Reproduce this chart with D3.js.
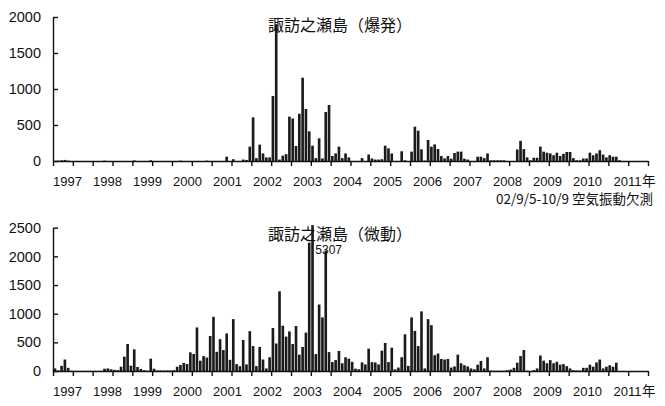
<!DOCTYPE html>
<html>
<head>
<meta charset="utf-8">
<script src="https://cdn.jsdelivr.net/npm/d3@7"></script>
<style>
  body { margin: 0; background: #fff; }
  svg { display: block; }
  .tick text { font-family: "Liberation Sans", Arial, sans-serif; fill: #111; }
</style>
</head>
<body>
<svg id="chart" width="665" height="406"></svg>
<script>
// monthly counts, Jan 1997 onward (one row per year)
const explosions = [
  0, 5, 10, 15, 5, 0, 0, 0, 0, 0, 0, 0,            // 1997
  0, 0, 0, 5, 0, 0, 0, 0, 0, 0, 0, 0,              // 1998
  8, 0, 0, 0, 0, 10, 0, 0, 0, 0, 0, 0,             // 1999
  0, 0, 5, 0, 0, 0, 0, 0, 0, 0, 5, 0,              // 2000
  0, 0, 0, 0, 60, 0, 25, 0, 0, 20, 15, 200,        // 2001
  606, 40, 227, 106, 50, 50, 903, 1900, 20, 75, 95, 616, // 2002
  590, 208, 657, 1157, 722, 412, 213, 40, 315, 35, 680, 778, // 2003
  70, 105, 200, 40, 105, 50, 0, 0, 0, 40, 0, 90,   // 2004
  35, 20, 20, 25, 213, 175, 105, 0, 0, 135, 10, 0, // 2005
  130, 477, 421, 162, 5, 292, 199, 231, 167, 69, 37, 69, // 2006
  32, 111, 130, 130, 32, 20, 0, 0, 60, 60, 40, 105, // 2007
  10, 10, 10, 10, 10, 0, 0, 0, 160, 280, 165, 50,  // 2008
  10, 45, 45, 200, 130, 115, 105, 80, 115, 70, 100, 125, // 2009
  125, 40, 10, 10, 35, 35, 116, 80, 105, 150, 90, 50, // 2010
  80, 60, 60, 10, 0, 0, 0, 0, 0, 0, 0, 0           // 2011
];

const tremors = [
  45, 10, 90, 200, 55, 5, 3, 3, 3, 3, 3, 3,        // 1997
  3, 3, 3, 40, 45, 30, 20, 15, 75, 250, 471, 93,   // 1998
  378, 70, 35, 15, 5, 215, 40, 10, 10, 10, 10, 10, // 1999
  15, 75, 105, 140, 122, 325, 297, 760, 180, 260, 235, 610, // 2000
  945, 335, 555, 365, 655, 195, 905, 120, 85, 540, 115, 695, // 2001
  435, 85, 420, 200, 45, 240, 750, 480, 1390, 790, 600, 690, // 2002
  470, 785, 285, 420, 670, 2240, 5307, 295, 1160, 935, 2100, 330, // 2003
  155, 190, 350, 135, 240, 215, 160, 40, 30, 150, 115, 390, // 2004
  155, 150, 115, 355, 490, 155, 407, 30, 60, 240, 640, 90, // 2005
  935, 700, 435, 1040, 45, 905, 800, 275, 305, 210, 200, 210, // 2006
  60, 80, 285, 135, 100, 80, 45, 30, 110, 175, 45, 240, // 2007
  8, 5, 5, 5, 5, 15, 25, 55, 145, 260, 365, 5,     // 2008
  0, 15, 45, 270, 180, 135, 190, 135, 160, 110, 120, 85, // 2009
  45, 15, 10, 10, 55, 55, 110, 75, 150, 200, 45, 75, // 2010
  100, 75, 145, 0, 0, 0, 0, 0, 0, 0, 0, 0          // 2011
];

const yearLabels = ['1997', '1998', '1999', '2000', '2001', '2002', '2003', '2004',
  '2005', '2006', '2007', '2008', '2009', '2010', '2011'];
const explosionTicks = [0, 500, 1000, 1500, 2000];
const tremorTicks = [0, 500, 1000, 1500, 2000, 2500];
const explosionTitle = '諏訪之瀬島（爆発）';
const tremorTitle = '諏訪之瀬島（微動）';
const gapNote = '02/9/5-10/9 空気振動欠測';
const tremorPeakLabel = '5307';

const svg = d3.select('#chart');
const left = 53, right = 648;
const nMonths = 180;

const monthLinear = d3.scaleLinear().domain([0, nMonths]).range([left, right]);
const xBand = d3.scaleBand().domain(d3.range(nMonths)).range([left, right]).padding(0.2);
const yearPos = d3.scalePoint().domain(yearLabels).range([67.5, 627.5]);

function drawPanel(opts) {
  const g = svg.append('g');
  const y = d3.scaleLinear().domain([0, opts.max]).range([opts.bottom, opts.top]);
  const cap = opts.max * 1.018;

  g.selectAll('rect.bar')
    .data(opts.values)
    .enter().append('rect')
    .attr('class', 'bar')
    .attr('x', (d, i) => xBand(i))
    .attr('width', xBand.bandwidth())
    .attr('y', d => y(Math.min(d, cap)))
    .attr('height', d => opts.bottom - y(Math.min(d, cap)))
    .attr('fill', '#1b1b1b');

  // x axis with half-year ticks
  const xAxis = d3.axisBottom(monthLinear)
    .tickValues(d3.range(0, nMonths + 1, 6))
    .tickFormat('')
    .tickSizeInner(5)
    .tickSizeOuter(0);
  g.append('g')
    .attr('transform', `translate(0,${opts.bottom})`)
    .call(xAxis)
    .call(a => a.selectAll('path, line').attr('stroke', '#111').attr('stroke-width', 1.4));

  const yAxis = d3.axisLeft(y)
    .tickValues(opts.ticks)
    .tickFormat(d3.format('d'))
    .tickSizeInner(-5)
    .tickSizeOuter(0)
    .tickPadding(12);
  g.append('g')
    .attr('transform', `translate(${left},0)`)
    .call(yAxis)
    .call(a => a.selectAll('path, line').attr('stroke', '#111').attr('stroke-width', 1.4))
    .call(a => a.selectAll('text').style('font-size', '14.5px'));

  g.selectAll('text.year')
    .data(yearLabels)
    .enter().append('text')
    .attr('class', 'year')
    .attr('x', d => yearPos(d))
    .attr('y', opts.bottom + 24.5)
    .attr('text-anchor', 'middle')
    .style('font-family', '"Liberation Sans", Arial, sans-serif')
    .style('font-size', '13px')
    .attr('fill', '#111')
    .text(d => d);

  g.append('text')
    .attr('x', 642)
    .attr('y', opts.bottom + 24.5)
    .style('font-family', '"Noto Sans CJK JP", sans-serif')
    .style('font-size', '13.5px')
    .attr('fill', '#111')
    .text('年');

  g.append('text')
    .attr('x', 268)
    .attr('y', opts.titleY)
    .style('font-family', '"Noto Sans CJK JP", sans-serif')
    .style('font-size', '16px')
    .attr('fill', '#111')
    .text(opts.title);

  return y;
}

drawPanel({ values: explosions, max: 2000, ticks: explosionTicks, top: 17, bottom: 161,
  title: explosionTitle, titleY: 30.5 });

drawPanel({ values: tremors, max: 2500, ticks: tremorTicks, top: 227.7, bottom: 371,
  title: tremorTitle, titleY: 239.5 });

// note under the top panel
svg.append('text')
  .attr('x', 653)
  .attr('y', 204)
  .attr('text-anchor', 'end')
  .style('font-family', '"Noto Sans CJK JP", sans-serif')
  .style('font-size', '13.5px')
  .attr('fill', '#111')
  .text(gapNote);

// value of the clipped tremor bar
const peakIndex = tremors.indexOf(d3.max(tremors));
svg.append('text')
  .attr('x', xBand(peakIndex) + xBand.bandwidth() + 1.5)
  .attr('y', 254)
  .style('font-family', '"Liberation Sans", Arial, sans-serif')
  .style('font-size', '12px')
  .attr('fill', '#111')
  .text(tremorPeakLabel);
</script>
</body>
</html>
